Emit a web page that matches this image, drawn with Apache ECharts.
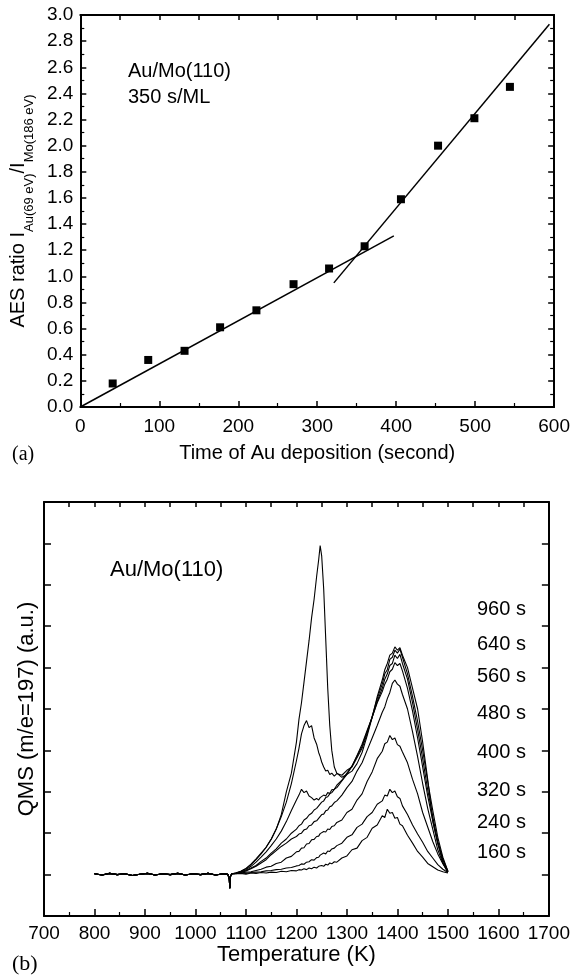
<!DOCTYPE html>
<html>
<head>
<meta charset="utf-8">
<title>Au/Mo(110)</title>
<script src="https://cdn.jsdelivr.net/npm/echarts@6.0.0/dist/echarts.min.js"></script>
<style>
  html, body { margin: 0; padding: 0; background: #fff; }
  #chart { width: 573px; height: 976px; }
</style>
</head>
<body>
<div id="chart"></div>
<script>
// (a) AES ratio vs deposition time
const depTime = [41, 86, 132, 177, 223, 270, 315, 360, 406, 453, 499, 544];
const aesRatio = [0.18, 0.36, 0.43, 0.61, 0.74, 0.94, 1.06, 1.23, 1.59, 2.00, 2.21, 2.45];
const fitLow = [[0, 0.0], [397, 1.31]];
const fitHigh = [[321, 0.95], [594, 2.93]];

// (b) TPD spectra, baseline shared by all curves
const baseT = [800, 815, 830, 845, 860, 875, 890, 905, 920, 935, 950, 965, 980, 995, 1010, 1025, 1040, 1055, 1064, 1067, 1068, 1069, 1072];
const baseV = [0.02, -0.01, 0.03, 0, 0.02, -0.02, 0.01, 0.03, -0.01, 0.02, 0, 0.03, -0.01, 0.02, 0, 0.03, -0.01, 0.02, 0.01, -0.1, -0.33, -0.05, 0.02];

const temps = [
  1080, 1090, 1100, 1110, 1120, 1130, 1140, 1150, 1160, 1170, 1180, 1190, 1200,
  1205, 1210, 1215, 1220, 1225, 1230, 1235, 1240,
  1244, 1247, 1250, 1254, 1258, 1262, 1266, 1270,
  1275, 1280,
  1290, 1300, 1310, 1320, 1330, 1340, 1350, 1360, 1370,
  1375, 1380, 1385, 1390, 1395, 1400, 1405, 1410,
  1420, 1430, 1440, 1450, 1460, 1470, 1480, 1490, 1500
];

const c160 = [
  0.02, 0.03, 0.01, 0.04, 0.03, 0.05, 0.04, 0.06, 0.05, 0.08, 0.07, 0.10, 0.09,
  0.12, 0.11, 0.14, 0.12, 0.16, 0.14, 0.18, 0.16,
  0.20, 0.18, 0.22, 0.20, 0.25, 0.23, 0.28, 0.26,
  0.31, 0.30,
  0.40, 0.45, 0.60, 0.64, 0.82, 0.90, 1.12, 1.20, 1.42,
  1.38, 1.58, 1.48, 1.50, 1.36, 1.38, 1.22, 1.18,
  0.95, 0.76, 0.56, 0.42, 0.27, 0.19, 0.11, 0.07, 0.04
];
const c240 = [
  0.02, 0.04, 0.03, 0.05, 0.06, 0.07, 0.09, 0.10, 0.12, 0.13, 0.16, 0.17, 0.21,
  0.22, 0.26, 0.25, 0.30, 0.31, 0.36, 0.35, 0.41,
  0.42, 0.47, 0.46, 0.52, 0.50, 0.57, 0.56, 0.62,
  0.64, 0.70,
  0.76, 0.90, 0.96, 1.14, 1.22, 1.40, 1.50, 1.70, 1.78,
  1.92, 1.90, 2.06, 1.98, 2.02, 1.88, 1.84, 1.66,
  1.45, 1.20, 0.98, 0.78, 0.56, 0.40, 0.24, 0.13, 0.05
];
const c320 = [
  0.03, 0.04, 0.06, 0.07, 0.10, 0.13, 0.18, 0.20, 0.27, 0.30, 0.40, 0.44, 0.55,
  0.56, 0.64, 0.65, 0.74, 0.75, 0.84, 0.85, 0.92,
  0.93, 0.99, 0.97, 1.04, 1.03, 1.10, 1.09, 1.16,
  1.18, 1.26,
  1.32, 1.50, 1.58, 1.80, 1.95, 2.25, 2.48, 2.80, 2.98,
  3.16, 3.20, 3.36, 3.26, 3.30, 3.14, 3.10, 2.96,
  2.70, 2.30, 1.95, 1.50, 1.15, 0.80, 0.50, 0.26, 0.06
];
const c400 = [
  0.03, 0.05, 0.09, 0.14, 0.20, 0.28, 0.36, 0.48, 0.58, 0.68, 0.76, 0.86, 0.92,
  0.98, 1.00, 1.08, 1.10, 1.18, 1.20, 1.28, 1.30,
  1.36, 1.38, 1.45, 1.46, 1.54, 1.56, 1.64, 1.66,
  1.74, 1.78,
  1.92, 2.10, 2.25, 2.50, 2.70, 3.00, 3.30, 3.60, 3.92,
  4.05, 4.25, 4.40, 4.62, 4.70, 4.60, 4.55, 4.35,
  4.00, 3.45, 2.85, 2.20, 1.60, 1.10, 0.60, 0.28, 0.06
];
const c480 = [
  0.03, 0.06, 0.10, 0.16, 0.22, 0.32, 0.40, 0.52, 0.62, 0.76, 0.86, 1.00, 1.10,
  1.18, 1.22, 1.32, 1.36, 1.44, 1.48, 1.56, 1.60,
  1.66, 1.68, 1.75, 1.78, 1.86, 1.88, 1.95, 1.98,
  2.06, 2.10,
  2.26, 2.42, 2.62, 2.88, 3.15, 3.48, 3.80, 4.15, 4.42,
  4.60, 4.72, 4.90, 4.96, 5.12, 5.05, 5.10, 4.92,
  4.50, 3.95, 3.30, 2.60, 1.90, 1.30, 0.75, 0.35, 0.07
];
const c560 = [
  0.03, 0.06, 0.12, 0.20, 0.30, 0.42, 0.55, 0.70, 0.86, 1.05, 1.28, 1.55, 1.80,
  1.92, 2.06, 1.98, 2.02, 1.90, 1.86, 1.80, 1.84,
  1.80, 1.86, 1.84, 1.92, 1.90, 1.98, 1.96, 2.05,
  2.06, 2.16,
  2.28, 2.45, 2.62, 2.86, 3.10, 3.45, 3.80, 4.18, 4.50,
  4.72, 4.85, 5.05, 5.10, 5.30, 5.22, 5.32, 5.10,
  4.72, 4.15, 3.50, 2.80, 2.05, 1.40, 0.80, 0.38, 0.08
];
const c640 = [
  0.04, 0.08, 0.14, 0.24, 0.36, 0.50, 0.66, 0.86, 1.10, 1.40, 1.75, 2.20, 2.75,
  3.05, 3.40, 3.60, 3.72, 3.55, 3.60, 3.30, 3.15,
  2.95, 2.85, 2.72, 2.60, 2.50, 2.52, 2.42, 2.45,
  2.38, 2.44,
  2.40, 2.52, 2.60, 2.82, 3.05, 3.40, 3.82, 4.25, 4.60,
  4.85, 4.95, 5.20, 5.25, 5.42, 5.35, 5.45, 5.25,
  4.85, 4.30, 3.70, 3.00, 2.25, 1.55, 0.90, 0.42, 0.08
];
const c960 = [
  0.04, 0.08, 0.15, 0.25, 0.38, 0.52, 0.66, 0.85, 1.10, 1.45, 2.00, 2.45, 3.20,
  3.75, 4.15, 4.65, 5.15, 5.65, 6.20, 6.65, 7.20,
  7.60, 7.95, 7.70, 6.90, 5.70, 4.50, 3.60, 3.00,
  2.60, 2.45,
  2.35, 2.42, 2.50, 2.68, 2.95, 3.35, 3.80, 4.30, 4.70,
  4.95, 5.10, 5.30, 5.35, 5.50, 5.42, 5.48, 5.30,
  5.00, 4.50, 4.00, 3.20, 2.30, 1.30, 0.75, 0.30, 0.06
];
const tpdCurves = [c160, c240, c320, c400, c480, c560, c640, c960];
const doseLabels = ['960 s', '640 s', '560 s', '480 s', '400 s', '320 s', '240 s', '160 s'];
const doseLabelY = [609, 644, 676, 713, 752, 790, 822, 852];

const SANS = '"Liberation Sans", Arial, sans-serif';
const SERIF = '"Liberation Serif", "Times New Roman", serif';

const chart = echarts.init(document.getElementById('chart'), null, { renderer: 'canvas' });

const line = { show: true, onZero: false, lineStyle: { color: '#000', width: 2 } };
const tick = (len) => ({ show: true, inside: true, length: len, lineStyle: { color: '#000', width: 1.5 } });
const minor = (len) => ({ show: true, splitNumber: 2, length: len, lineStyle: { color: '#000', width: 1.2 } });

const basePairs = baseT.map((t, i) => [t, baseV[i]]);

const option = {
  animation: false,
  backgroundColor: '#fff',
  textStyle: { fontFamily: SANS, color: '#000' },
  grid: [
    { left: 77, top: 15, width: 480, height: 392 },
    { left: 44, top: 502, width: 515, height: 414 }
  ],
  xAxis: [
    {
      gridIndex: 0, type: 'value', min: 0, max: 600, interval: 100,
      axisLine: line, axisTick: tick(6), minorTick: minor(4), splitLine: { show: false },
      axisLabel: { fontSize: 19, color: '#000', margin: 10, fontFamily: SANS },
      name: 'Time of Au deposition (second)', nameLocation: 'middle', nameGap: 36,
      nameTextStyle: { fontSize: 20, color: '#000', fontFamily: SANS }
    },
    {
      gridIndex: 0, type: 'value', position: 'top', min: 0, max: 600, interval: 50,
      axisLine: line, axisTick: tick(5), axisLabel: { show: false }, splitLine: { show: false }
    },
    {
      gridIndex: 1, type: 'value', min: 700, max: 1700, interval: 100,
      axisLine: line, axisTick: tick(7), minorTick: minor(4), splitLine: { show: false },
      axisLabel: { fontSize: 19, color: '#000', margin: 8, fontFamily: SANS, formatter: v => String(v) },
      name: 'Temperature (K)', nameLocation: 'middle', nameGap: 28,
      nameTextStyle: { fontSize: 22, color: '#000', fontFamily: SANS }
    },
    {
      gridIndex: 1, type: 'value', position: 'top', min: 700, max: 1700, interval: 50,
      axisLine: line, axisTick: tick(5), axisLabel: { show: false }, splitLine: { show: false }
    }
  ],
  yAxis: [
    {
      gridIndex: 0, type: 'value', min: 0, max: 3, interval: 0.2,
      axisLine: line, axisTick: tick(6), minorTick: minor(4), splitLine: { show: false },
      axisLabel: { fontSize: 19, color: '#000', margin: 7, fontFamily: SANS, formatter: v => v.toFixed(1) },
      name: '{m|AES ratio I}{s|Au(69 eV)}{m|/I}{s|Mo(186 eV)}',
      nameLocation: 'middle', nameGap: 39, nameRotate: 90,
      nameTextStyle: {
        rich: {
          m: { fontSize: 20, lineHeight: 20, verticalAlign: 'top', fontFamily: SANS, color: '#000' },
          s: { fontSize: 13, lineHeight: 13, padding: [15, 0, 0, 0], verticalAlign: 'top', fontFamily: SANS, color: '#000' }
        }
      }
    },
    {
      gridIndex: 0, type: 'value', position: 'right', min: 0, max: 3, interval: 0.2,
      axisLine: line, axisTick: tick(6), minorTick: minor(4), axisLabel: { show: false }, splitLine: { show: false }
    },
    {
      gridIndex: 1, type: 'value', min: -1, max: 9, interval: 1,
      axisLine: line, axisTick: tick(7), axisLabel: { show: false }, splitLine: { show: false },
      name: 'QMS (m/e=197) (a.u.)', nameLocation: 'middle', nameGap: 6, nameRotate: 90,
      nameTextStyle: { fontSize: 22, color: '#000', fontFamily: SANS }
    },
    {
      gridIndex: 1, type: 'value', position: 'right', min: -1, max: 9, interval: 1,
      axisLine: line, axisTick: tick(7), axisLabel: { show: false }, splitLine: { show: false }
    }
  ],
  series: [
    {
      type: 'scatter', xAxisIndex: 0, yAxisIndex: 0, symbol: 'rect', symbolSize: 8,
      itemStyle: { color: '#000', opacity: 1 },
      data: depTime.map((t, i) => [t, aesRatio[i]])
    },
    {
      type: 'line', xAxisIndex: 0, yAxisIndex: 0, showSymbol: false, symbol: 'none',
      lineStyle: { color: '#000', width: 1.5 }, data: fitLow
    },
    {
      type: 'line', xAxisIndex: 0, yAxisIndex: 0, showSymbol: false, symbol: 'none',
      lineStyle: { color: '#000', width: 1.5 }, data: fitHigh
    }
  ].concat(tpdCurves.map(vals => ({
    type: 'line', xAxisIndex: 2, yAxisIndex: 2, showSymbol: false, symbol: 'none',
    lineStyle: { color: '#000', width: 1.1 },
    data: basePairs.concat(temps.map((t, i) => [t, vals[i]]))
  }))),
  graphic: [
    { type: 'text', x: 128, y: 71, style: { text: 'Au/Mo(110)', fontSize: 20, fontFamily: SANS, fill: '#000', verticalAlign: 'middle' } },
    { type: 'text', x: 128, y: 97, style: { text: '350 s/ML', fontSize: 20, fontFamily: SANS, fill: '#000', verticalAlign: 'middle' } },
    { type: 'text', x: 12, y: 455, style: { text: '(a)', fontSize: 20, fontFamily: SERIF, fill: '#000', verticalAlign: 'middle' } },
    { type: 'text', x: 110, y: 570, style: { text: 'Au/Mo(110)', fontSize: 22, fontFamily: SANS, fill: '#000', verticalAlign: 'middle' } },
    { type: 'text', x: 12, y: 964, style: { text: '(b)', fontSize: 22, fontFamily: SERIF, fill: '#000', verticalAlign: 'middle' } }
  ].concat(doseLabels.map((s, i) => ({
    type: 'text', x: 477, y: doseLabelY[i],
    style: { text: s, fontSize: 20, fontFamily: SANS, fill: '#000', verticalAlign: 'middle' }
  })))
};

chart.setOption(option);
</script>
</body>
</html>
